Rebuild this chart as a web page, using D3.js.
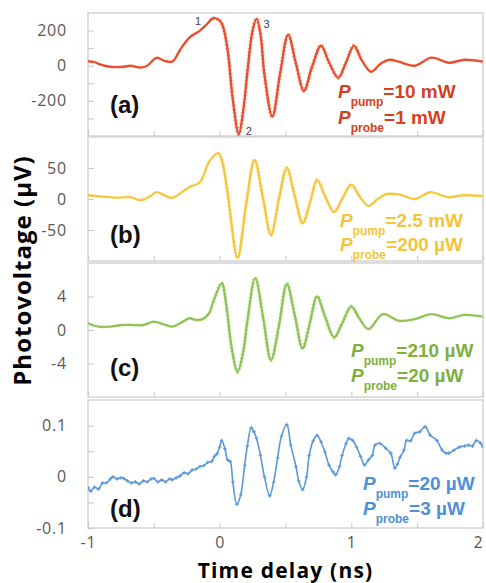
<!DOCTYPE html>
<html>
<head>
<meta charset="utf-8">
<title>Photovoltage vs time delay</title>
<script src="https://d3js.org/d3.v7.min.js"></script>
<style>
  body { margin: 0; background: #fff; }
  .axis text { font-family: 'Open Sans', sans-serif; font-size: 16px; letter-spacing: 0.8px; fill: #595959; }
  .axis line, .axis path { stroke: #c8c8c8; }
  .axis-title { font-family: 'Open Sans', sans-serif; font-weight: bold; fill: #000; }
  .panel-tag { font-family: 'Liberation Sans', Arial, sans-serif; font-weight: bold; font-size: 24px; fill: #111; }
  .note { font-family: 'Liberation Sans', Arial, sans-serif; font-weight: bold; font-size: 19px; }
  .pt-num { font-family: 'Liberation Sans', Arial, sans-serif; font-size: 11px; fill: #3a4050; }
</style>
</head>
<body>
<svg id="chart" width="486" height="583"></svg>
<script>
// ---- data ----
const timeA = [-1.00,-0.95,-0.91,-0.83,-0.73,-0.68,-0.60,-0.55,-0.48,-0.42,
  -0.36,-0.30,-0.23,-0.15,-0.10,-0.05,-0.01,0.02,0.06,0.10,
  0.145,0.18,0.21,0.25,0.28,0.31,0.34,0.40,0.46,0.52,
  0.58,0.64,0.70,0.77,0.83,0.90,0.96,1.02,1.08,1.15,
  1.22,1.29,1.36,1.48,1.61,1.74,1.86,2.00];
const voltA = [25,20,8,-6,-6,0,-10,0,45,28,
  23,91,160,200,234,270,263,234,91,-194,
  -389,-250,-40,200,268,180,-50,-290,-40,177,
  10,-143,-10,114,20,-69,20,114,30,-34,
  10,34,23,0,46,17,34,23];

const timeB = [-1.00,-0.90,-0.78,-0.68,-0.60,-0.53,-0.48,-0.42,-0.36,-0.28,
  -0.23,-0.15,-0.08,-0.01,0.02,0.06,0.136,0.20,0.265,0.33,
  0.39,0.45,0.51,0.57,0.63,0.69,0.74,0.80,0.87,0.93,
  1.00,1.06,1.13,1.20,1.27,1.37,1.48,1.60,1.73,1.85,
  2.00];
const voltB = [6,4,2,3,-2,4,11,6,2,12,
  19,27,60,74,60,10,-95,-10,63,0,
  -58,0,50,5,-39,-3,31,5,-21,0,
  23,5,-11,0,8,7,0,11,3,6,
  5];

const timeC = [-1.00,-0.92,-0.83,-0.74,-0.66,-0.58,-0.50,-0.43,-0.36,-0.29,
  -0.23,-0.18,-0.13,-0.08,-0.05,0.015,0.05,0.09,0.136,0.18,
  0.21,0.27,0.33,0.39,0.45,0.51,0.57,0.63,0.68,0.74,
  0.80,0.87,0.93,1.00,1.06,1.13,1.24,1.36,1.48,1.61,
  1.74,1.86,2.00];
const voltC = [0.8,0.4,0.4,0.6,0.6,0.6,1.0,0.7,0.4,0.9,
  1.4,1.2,1.3,2.0,3.3,5.6,3.0,-2.0,-5.0,-2.5,
  1.0,6.2,1.5,-3.6,0.5,5.5,1.8,-2.2,0.5,4.0,
  1.6,-0.9,0.8,2.8,1.4,0.1,1.9,1.1,1.3,1.9,
  1.4,1.8,1.6];

const timeD = [-1.00,-0.98,-0.95,-0.92,-0.89,-0.86,-0.83,-0.81,-0.78,-0.75,
  -0.73,-0.70,-0.67,-0.64,-0.61,-0.58,-0.55,-0.52,-0.50,-0.47,
  -0.44,-0.41,-0.38,-0.36,-0.33,-0.30,-0.27,-0.24,-0.21,-0.18,
  -0.15,-0.12,-0.09,-0.06,-0.04,-0.02,0.00,0.015,0.04,0.06,
  0.08,0.10,0.13,0.16,0.19,0.21,0.24,0.26,0.28,0.31,
  0.34,0.38,0.41,0.44,0.47,0.51,0.54,0.58,0.60,0.63,
  0.66,0.68,0.71,0.74,0.77,0.80,0.83,0.86,0.88,0.91,
  0.93,0.96,0.98,1.01,1.04,1.07,1.10,1.13,1.16,1.18,
  1.22,1.26,1.30,1.33,1.35,1.37,1.40,1.42,1.45,1.48,
  1.52,1.56,1.60,1.65,1.69,1.72,1.74,1.78,1.82,1.86,
  1.89,1.92,1.95,1.98,2.00];
const voltD = [-0.021,-0.028,-0.020,-0.024,-0.012,-0.012,-0.004,0.000,-0.004,-0.002,
  -0.003,-0.008,-0.012,-0.010,-0.014,-0.008,-0.010,-0.004,-0.003,-0.010,
  -0.006,-0.010,-0.004,-0.006,-0.002,0.002,0.008,0.006,0.013,0.015,
  0.020,0.022,0.028,0.030,0.040,0.045,0.058,0.071,0.055,0.033,
  0.030,-0.010,-0.054,-0.035,0.023,0.060,0.096,0.088,0.075,0.042,
  0.000,-0.037,-0.010,0.037,0.080,0.102,0.062,0.020,-0.008,-0.025,
  0.000,0.042,0.070,0.081,0.068,0.048,0.023,0.010,0.004,0.020,
  0.042,0.065,0.075,0.071,0.058,0.040,0.023,0.033,0.042,0.062,
  0.065,0.056,0.046,0.017,0.025,0.038,0.052,0.071,0.070,0.085,
  0.088,0.098,0.081,0.071,0.052,0.046,0.046,0.052,0.058,0.060,
  0.062,0.060,0.071,0.066,0.058];

const panelTags = ["(a)", "(b)", "(c)", "(d)"];
const yDomains = [[-400, 300], [-100, 100], [-8, 8], [-0.1, 0.15]];
const yTicks = [[-300, -200, -100, 0, 100, 200], [-50, 0, 50], [-4, 0, 4], [-0.1, -0.05, 0, 0.05, 0.1]];
const yTickLabels = [[-200, 0, 200], [-50, 0, 50], [-4, 0, 4], [-0.1, 0, 0.1]];
const pumpText = ["=10 mW", "=2.5 mW", "=210 µW", "=20 µW"];
const probeText = ["=1 mW", "=200 µW", "=20 µW", "=3 µW"];
const xTicks = [-1, -0.5, 0, 0.5, 1, 1.5, 2];
const xTickLabels = [-1, 0, 1, 2];

// ---- layout / styles ----
const lineColors = ["#e8502f", "#f5c842", "#92c456", "#5b97d6"];
const textColors = ["#d6401c", "#f2c53c", "#7db03c", "#4f8fd6"];
const boxes = [
  { top: 13, bottom: 136, noteX: 338, note1: 98, note2: 124 },
  { top: 137, bottom: 261, noteX: 340, note1: 227, note2: 251 },
  { top: 263, bottom: 397, noteX: 351, note1: 357, note2: 382 },
  { top: 400, bottom: 528, noteX: 363, note1: 490, note2: 515 }
];
const tagBase = [113, 243, 376, 517];

const series = [[timeA, voltA], [timeB, voltB], [timeC, voltC], [timeD, voltD]];

const svg = d3.select("#chart");
const left = 88, right = 483;
const x = d3.scaleLinear().domain([-1, 2]).range([left, right]);

series.forEach(([ts, vs], i) => {
  const box = boxes[i];
  const y = d3.scaleLinear().domain(yDomains[i]).range([box.bottom, box.top]);
  const pts = ts.map((t, k) => [t, vs[k]]);
  const g = svg.append("g");

  g.append("clipPath").attr("id", "clip" + i)
    .append("rect").attr("x", left).attr("y", box.top)
    .attr("width", right - left).attr("height", box.bottom - box.top);

  g.append("rect")
    .attr("x", left).attr("y", box.top)
    .attr("width", right - left).attr("height", box.bottom - box.top)
    .attr("fill", "none").attr("stroke", "#d4d4d4").attr("stroke-width", 1.5);

  // inward ticks on the bottom edge
  g.append("g").attr("class", "axis")
    .attr("transform", `translate(0,${box.bottom})`)
    .call(d3.axisBottom(x).tickValues(xTicks).tickSize(-5).tickFormat(""))
    .call(a => a.select(".domain").remove());

  g.append("g").attr("class", "axis")
    .attr("transform", `translate(${left},0)`)
    .call(d3.axisLeft(y).tickValues(yTicks[i]).tickSize(-6).tickPadding(21)
      .tickFormat(d => yTickLabels[i].includes(d) ? String(d) : ""))
    .call(a => a.select(".domain").remove());

  const line = d3.line().x(d => x(d[0])).y(d => y(d[1])).curve(d3.curveCatmullRom.alpha(0.5));
  const plot = g.append("g").attr("clip-path", `url(#clip${i})`);

  plot.append("path").datum(pts)
    .attr("d", line).attr("fill", "none")
    .attr("stroke", lineColors[i]).attr("stroke-width", i === 3 ? 1.6 : 2.4)
    .attr("stroke-linejoin", "round");

  if (i < 3) {
    // marker-like texture where the oscillations are dense
    plot.append("path").datum(pts.filter(d => d[0] >= -0.05 && d[0] <= 1.1))
      .attr("d", line).attr("fill", "none")
      .attr("stroke", lineColors[i]).attr("stroke-width", 4.5)
      .attr("stroke-dasharray", "1,2.6").attr("opacity", 0.5);
  } else {
    plot.selectAll(".mk").data(pts).enter().append("path")
      .attr("class", "mk")
      .attr("d", d3.symbol(d3.symbolCross, 8))
      .attr("transform", d => `translate(${x(d[0])},${y(d[1])})`)
      .attr("fill", lineColors[i]).attr("opacity", 0.8);
  }

  g.append("text").attr("class", "panel-tag")
    .attr("x", 110).attr("y", tagBase[i]).text(panelTags[i]);

  const n1 = g.append("text").attr("class", "note").attr("fill", textColors[i])
    .attr("x", box.noteX).attr("y", box.note1);
  n1.append("tspan").attr("font-style", "italic").text("P");
  n1.append("tspan").attr("font-size", 12).attr("dy", 8).text("pump");
  n1.append("tspan").attr("dy", -8).text(pumpText[i]);

  const n2 = g.append("text").attr("class", "note").attr("fill", textColors[i])
    .attr("x", box.noteX).attr("y", box.note2);
  n2.append("tspan").attr("font-style", "italic").text("P");
  n2.append("tspan").attr("font-size", 12).attr("dy", 8).text("probe");
  n2.append("tspan").attr("dy", -8).text(probeText[i]);

  if (i === 0) {
    const peak1 = pts[15], trough2 = pts[20], peak3 = pts[24];
    g.append("text").attr("class", "pt-num").attr("text-anchor", "end")
      .attr("x", x(peak1[0]) - 12).attr("y", y(peak1[1]) + 7).text("1");
    g.append("text").attr("class", "pt-num")
      .attr("x", x(trough2[0]) + 7).attr("y", y(trough2[1]) + 1).text("2");
    g.append("text").attr("class", "pt-num")
      .attr("x", x(peak3[0]) + 7).attr("y", y(peak3[1]) + 9).text("3");
  }
});

// x tick labels below the last panel
svg.append("g").attr("class", "axis")
  .attr("transform", `translate(0,${boxes[3].bottom})`)
  .call(d3.axisBottom(x).tickValues(xTickLabels).tickSize(0).tickPadding(9).tickFormat(d => String(d)))
  .call(a => a.select(".domain").remove())
  .call(a => a.selectAll(".tick:last-of-type text").attr("dx", "-5"));

svg.append("text").attr("class", "axis-title")
  .attr("x", (left + right) / 2).attr("y", 578)
  .attr("font-size", 21).attr("letter-spacing", "1.2px")
  .attr("text-anchor", "middle").text("Time delay (ns)");

svg.append("text").attr("class", "axis-title")
  .attr("transform", `translate(31,${(boxes[0].top + boxes[3].bottom) / 2}) rotate(-90)`)
  .attr("font-size", 24).attr("letter-spacing", "1px")
  .attr("text-anchor", "middle").text("Photovoltage (µV)");
</script>
</body>
</html>
